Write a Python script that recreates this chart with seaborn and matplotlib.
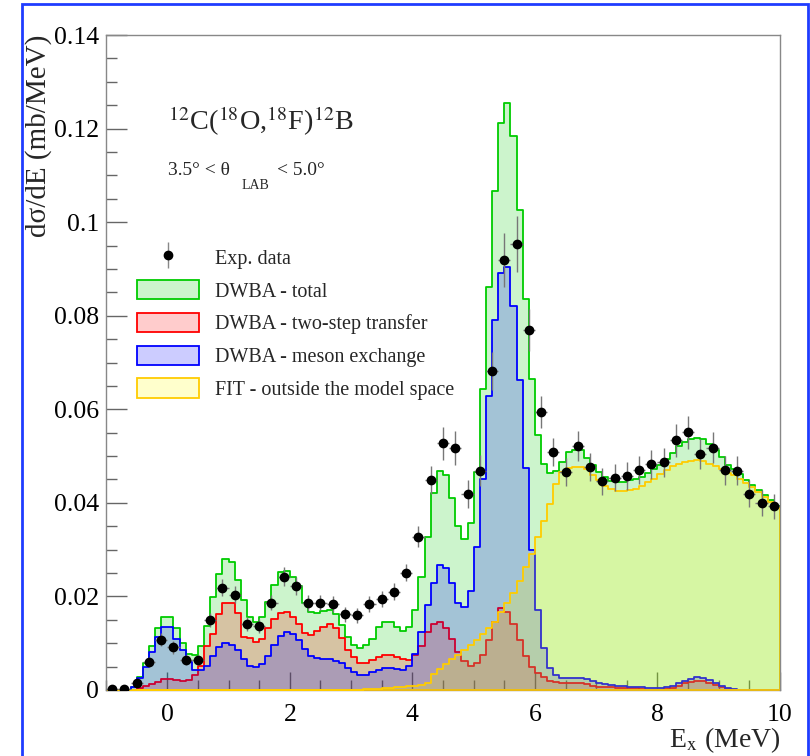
import numpy as np
import pandas as pd
import matplotlib
matplotlib.use("Agg")
import matplotlib.pyplot as plt
import seaborn as sns
from matplotlib.patches import Patch, Rectangle
from matplotlib.lines import Line2D
from matplotlib.legend_handler import HandlerTuple
from matplotlib.ticker import MultipleLocator, FuncFormatter
from matplotlib.colors import to_rgba

# ---------------- data (0.1 MeV bins from -1.0 to 10.0 MeV) ----------------
bin_lo, bin_hi, n_bins = -1.0, 10.0, 110

dwba_total = [
    0.0, 0.0, 0.0, 0.0001, 0.0007, 0.0028, 0.0057, 0.0095, 0.0132, 0.0155,
    0.0155, 0.0132, 0.0101, 0.0078, 0.0075, 0.0093, 0.0137, 0.0198, 0.0249, 0.0279,
    0.0274, 0.0235, 0.0192, 0.0157, 0.0146, 0.0157, 0.0189, 0.0224, 0.0252, 0.0255,
    0.0242, 0.0222, 0.0187, 0.0167, 0.0164, 0.0168, 0.0171, 0.0162, 0.0138, 0.0114,
    0.0097, 0.0089, 0.0096, 0.0110, 0.0134, 0.0145, 0.0145, 0.0134, 0.0126, 0.0135,
    0.0172, 0.0241, 0.0328, 0.0422, 0.0468, 0.0460, 0.0410, 0.0350, 0.0322, 0.0356,
    0.0467, 0.0643, 0.0861, 0.1066, 0.1211, 0.1254, 0.1184, 0.1027, 0.0835, 0.0665,
    0.0545, 0.0482, 0.0464, 0.0468, 0.0488, 0.0508, 0.0513, 0.0513, 0.0495, 0.0481,
    0.0467, 0.0456, 0.0447, 0.0445, 0.0445, 0.0449, 0.0450, 0.0456, 0.0463, 0.0472,
    0.0481, 0.0494, 0.0507, 0.0522, 0.0531, 0.0536, 0.0538, 0.0536, 0.0526, 0.0513,
    0.0497, 0.0481, 0.0472, 0.0461, 0.0449, 0.0438, 0.0427, 0.0417, 0.0406, 0.0393,
]

dwba_two_step = [
    0.0, 0.0, 0.0, 0.0, 0.0, 0.0004, 0.0009, 0.0013, 0.0018, 0.0023,
    0.0023, 0.0022, 0.0020, 0.0021, 0.0032, 0.0051, 0.0093, 0.0120, 0.0162, 0.0185,
    0.0185, 0.0165, 0.0114, 0.0112, 0.0103, 0.0110, 0.0132, 0.0151, 0.0165, 0.0166,
    0.0155, 0.0140, 0.0121, 0.0118, 0.0127, 0.0135, 0.0140, 0.0132, 0.0111, 0.0086,
    0.0070, 0.0058, 0.0058, 0.0065, 0.0071, 0.0075, 0.0075, 0.0070, 0.0066, 0.0065,
    0.0075, 0.0094, 0.0125, 0.0140, 0.0145, 0.0133, 0.0108, 0.0081, 0.0061, 0.0052,
    0.0057, 0.0075, 0.0107, 0.0146, 0.0175, 0.0167, 0.0142, 0.0107, 0.0072, 0.0049,
    0.0036, 0.0027, 0.0020, 0.0018, 0.0016, 0.0015, 0.0015, 0.0014, 0.0012, 0.0009,
    0.0007, 0.0006, 0.0006, 0.0004, 0.0004, 0.0004, 0.0004, 0.0002, 0.0001, 0.0001,
    0.0001, 0.0002, 0.0005, 0.0009, 0.0014, 0.0018, 0.0019, 0.0019, 0.0014, 0.0010,
    0.0006, 0.0002, 0.0001, 0.0, 0.0, 0.0, 0.0, 0.0, 0.0, 0.0,
]

dwba_meson = [
    0.0, 0.0, 0.0, 0.0, 0.0007, 0.0026, 0.0050, 0.0082, 0.0113, 0.0134,
    0.0134, 0.0110, 0.0085, 0.0060, 0.0042, 0.0042, 0.0052, 0.0072, 0.0091, 0.0100,
    0.0096, 0.0085, 0.0066, 0.0051, 0.0050, 0.0056, 0.0073, 0.0096, 0.0115, 0.0123,
    0.0119, 0.0107, 0.0087, 0.0073, 0.0068, 0.0066, 0.0066, 0.0063, 0.0057, 0.0046,
    0.0038, 0.0033, 0.0033, 0.0038, 0.0043, 0.0046, 0.0046, 0.0045, 0.0043, 0.0051,
    0.0076, 0.0123, 0.0182, 0.0228, 0.0267, 0.0260, 0.0228, 0.0187, 0.0177, 0.0211,
    0.0306, 0.0452, 0.0628, 0.0791, 0.0892, 0.0905, 0.0821, 0.0663, 0.0474, 0.0299,
    0.0170, 0.0089, 0.0048, 0.0031, 0.0025, 0.0025, 0.0025, 0.0025, 0.0023, 0.0020,
    0.0016, 0.0013, 0.0011, 0.0009, 0.0009, 0.0007, 0.0007, 0.0006, 0.0004, 0.0004,
    0.0004, 0.0006, 0.0009, 0.0014, 0.0019, 0.0024, 0.0027, 0.0026, 0.0021, 0.0014,
    0.0009, 0.0005, 0.0002, 0.0001, 0.0, 0.0, 0.0, 0.0, 0.0, 0.0,
]

fit_outside = [
    0.0, 0.0, 0.0, 0.0, 0.0, 0.0, 0.0, 0.0, 0.0, 0.0,
    0.0, 0.0, 0.0, 0.0, 0.0, 0.0, 0.0, 0.0, 0.0, 0.0,
    0.0, 0.0, 0.0, 0.0, 0.0, 0.0, 0.0, 0.0, 0.0, 0.0,
    0.0, 0.0, 0.0, 0.0, 0.0, 0.0, 0.0, 0.0, 0.0, 0.0,
    0.0001, 0.0001, 0.0002, 0.0002, 0.0003, 0.0004, 0.0005, 0.0006, 0.0007, 0.0008,
    0.0009, 0.0011, 0.0014, 0.0034, 0.0045, 0.0055, 0.0066, 0.0075, 0.0085, 0.0097,
    0.0107, 0.0119, 0.0132, 0.0146, 0.0166, 0.0186, 0.0208, 0.0233, 0.0263, 0.0291,
    0.0328, 0.0361, 0.0398, 0.0440, 0.0467, 0.0474, 0.0476, 0.0476, 0.0472, 0.0460,
    0.0449, 0.0436, 0.0430, 0.0426, 0.0426, 0.0427, 0.0430, 0.0437, 0.0445, 0.0452,
    0.0462, 0.0470, 0.0479, 0.0483, 0.0487, 0.0489, 0.0492, 0.0489, 0.0484, 0.0479,
    0.0472, 0.0464, 0.0460, 0.0451, 0.0442, 0.0433, 0.0424, 0.0413, 0.0402, 0.0388,
]

# experimental data (0.2 MeV bins, centres -0.9 ... 9.9 MeV)
exp_x = [round(-0.9 + 0.2 * k, 1) for k in range(55)]
exp_y = [
    0.0002, 0.0003, 0.0014, 0.0060, 0.0107, 0.0091, 0.0064, 0.0064, 0.0150, 0.0219,
    0.0204, 0.0141, 0.0136, 0.0187, 0.0242, 0.0223, 0.0185, 0.0187, 0.0183, 0.0162,
    0.0160, 0.0184, 0.0194, 0.0210, 0.0251, 0.0328, 0.0449, 0.0527, 0.0517, 0.0419,
    0.0469, 0.0682, 0.0919, 0.0953, 0.0769, 0.0594, 0.0509, 0.0465, 0.0522, 0.0477,
    0.0446, 0.0454, 0.0457, 0.0470, 0.0483, 0.0487, 0.0534, 0.0551, 0.0504, 0.0518,
    0.0470, 0.0469, 0.0420, 0.0400, 0.0393,
]
exp_err = [
    0.0002, 0.0003, 0.0006, 0.0010, 0.0014, 0.0013, 0.0011, 0.0011, 0.0015, 0.0018,
    0.0018, 0.0015, 0.0015, 0.0017, 0.0020, 0.0019, 0.0017, 0.0017, 0.0017, 0.0016,
    0.0016, 0.0017, 0.0017, 0.0018, 0.0018, 0.0022, 0.0030, 0.0036, 0.0037, 0.0030,
    0.0034, 0.0040, 0.0057, 0.0060, 0.0045, 0.0034, 0.0030, 0.0030, 0.0032, 0.0030,
    0.0029, 0.0029, 0.0030, 0.0030, 0.0031, 0.0031, 0.0035, 0.0035, 0.0032, 0.0033,
    0.0031, 0.0031, 0.0029, 0.0028, 0.0027,
]
exp_xerr = 0.1

legend_labels = ["Exp. data", "DWBA - total", "DWBA - two-step transfer",
                 "DWBA - meson exchange", "FIT - outside the model space"]

# ---------------- style ----------------
sns.set_style("white")
plt.rcParams["font.family"] = ["Liberation Serif", "DejaVu Serif"]
plt.rcParams["mathtext.fontset"] = "stix"

fig = plt.figure(figsize=(8.1, 7.56), dpi=100)
ax = fig.add_axes([106 / 810, 66 / 756, 674 / 810, 655 / 756])

edges = np.linspace(bin_lo, bin_hi, n_bins + 1)
centers = 0.5 * (edges[:-1] + edges[1:])
bin_list = [float(e) for e in edges]

ALPHA = 0.2
styles = [
    (dwba_total, "#00cc00", "#00cc00"),
    (dwba_two_step, "#ff0000", "#ff0000"),
    (dwba_meson, "#0000ff", "#0000ff"),
    (fit_outside, "#ffff00", "#ffcc00"),
]

handles = []
for vals, fill_c, line_c in styles:
    df = pd.DataFrame({"E": centers, "w": vals})
    sns.histplot(data=df, x="E", weights="w", bins=bin_list, element="step",
                 fill=True, facecolor=to_rgba(fill_c, ALPHA), edgecolor=line_c,
                 linewidth=1.3, ax=ax)
    handles.append(Patch(facecolor=to_rgba(fill_c, ALPHA), edgecolor=line_c,
                         linewidth=1.3))

ax.errorbar(exp_x, exp_y, yerr=exp_err, xerr=exp_xerr, fmt="o", color="black",
            ms=6, ecolor="#777777", elinewidth=1.0, capsize=0, zorder=5)

ax.set_xlim(bin_lo, bin_hi)
ax.set_ylim(0, 0.14)

# axes / ticks
for name, sp in ax.spines.items():
    sp.set_visible(True)
    sp.set_color("#888888")
    sp.set_linewidth(1.0)
ax.spines["bottom"].set_zorder(0.9)

ax.xaxis.set_major_locator(MultipleLocator(2))
ax.xaxis.set_minor_locator(MultipleLocator(0.5))
ax.yaxis.set_major_locator(MultipleLocator(0.02))
ax.yaxis.set_minor_locator(MultipleLocator(0.005))
ax.yaxis.set_major_formatter(FuncFormatter(lambda v, p: f"{v:g}"))
ax.xaxis.set_major_formatter(FuncFormatter(lambda v, p: f"{v:g}"))
ax.tick_params(which="both", direction="in", color="#666666", top=False,
               right=False, bottom=True, left=True, labelcolor="black")
ax.tick_params(axis="y", which="major", length=15, width=1.0, labelsize=18.5, pad=5)
ax.tick_params(axis="y", which="minor", length=8, width=1.0)
ax.tick_params(axis="x", which="major", length=13, width=1.0, labelsize=18.5, pad=10)
ax.tick_params(axis="x", which="minor", length=7, width=1.0)

ax.set_ylabel("dσ/dE (mb/MeV)", fontsize=21, loc="top")
ax.yaxis.set_label_coords(-0.080, 1.0)
ax.set_xlabel("E$_{\\mathrm{x}}$ (MeV)", fontsize=20, loc="right")
ax.xaxis.set_label_coords(1.0, -0.054)

# annotations
ax.text(0.092, 0.855, "$^{12}$C($^{18}$O,$^{18}$F)$^{12}$B", transform=ax.transAxes,
        fontsize=20.3, ha="left", va="baseline")
ax.text(0.092, 0.786, "3.5° < θ", transform=ax.transAxes,
        fontsize=14, ha="left", va="baseline")
ax.text(0.2018, 0.765, "LAB", transform=ax.transAxes,
        fontsize=10, ha="left", va="baseline")
ax.text(0.2537, 0.786, "< 5.0°", transform=ax.transAxes,
        fontsize=14, ha="left", va="baseline")

# legend
data_handle = (Line2D([], [], marker="|", markersize=19, color="#888888",
                      linestyle="none", markeredgewidth=1.0),
               Line2D([], [], marker="o", markersize=6, color="black",
                      linestyle="none"))
leg = ax.legend([data_handle] + handles, legend_labels,
                handler_map={tuple: HandlerTuple(ndivide=1)},
                loc="upper left", bbox_to_anchor=(0.046, 0.676),
                frameon=False, fontsize=14.5, handlelength=3.1, handleheight=1.1,
                labelspacing=0.56, handletextpad=0.75, borderpad=0.0,
                borderaxespad=0.0)

# blue outer frame
fig.patches.append(Rectangle((22 / 810, -0.01), (808 - 22) / 810, (756 - 4) / 756 + 0.01,
                             transform=fig.transFigure, fill=False,
                             edgecolor="#1f3cff", linewidth=2))

fig.savefig("out.png", dpi=100)
